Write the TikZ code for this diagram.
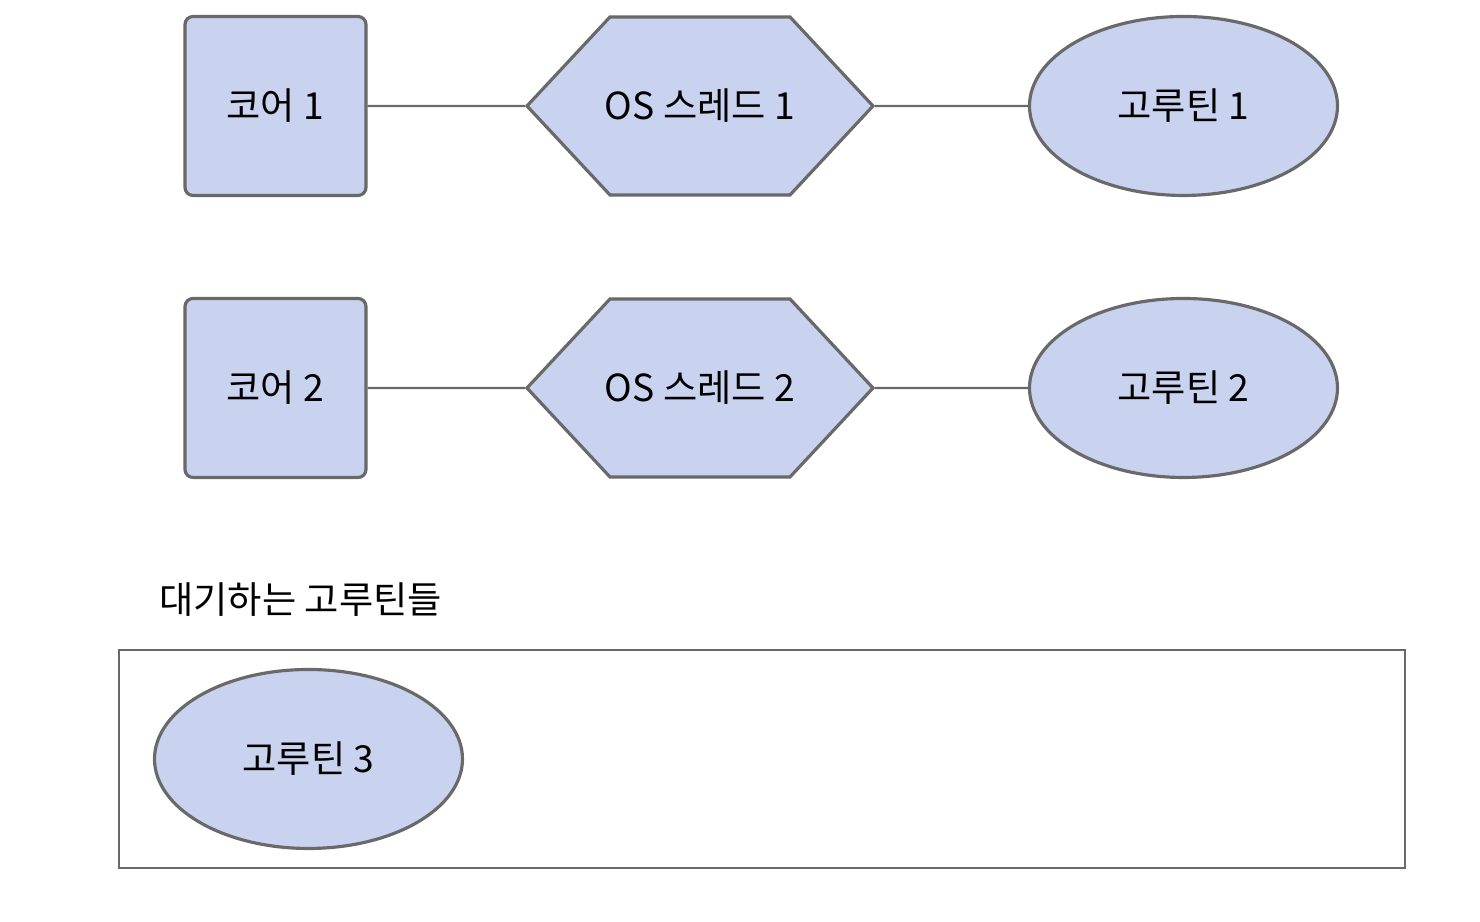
\documentclass[tikz,border=0pt]{standalone}
\usepackage{fontspec}
\setmainfont{Noto Sans CJK KR}
\usepackage{tikz}
\usetikzlibrary{shapes.geometric,shapes.symbols,positioning}
\definecolor{shapefill}{RGB}{201,211,240}
\definecolor{shapeline}{RGB}{105,105,105}

\begin{document}
\begin{tikzpicture}[font=\fontsize{10.6}{13}\selectfont]
\tikzstyle{core}=[rectangle, rounded corners=0.8mm, minimum width=1.81cm, minimum height=1.79cm, line width=0.9pt, draw=shapeline, fill=shapefill]
\tikzstyle{thread}=[signal, signal to=west and east, signal pointer angle=94, minimum width=3.19cm, minimum height=1.78cm, inner ysep=0pt, inner xsep=-0.05cm, line width=0.9pt, draw=shapeline, fill=shapefill]
\tikzstyle{gor}=[ellipse, minimum width=3.08cm, minimum height=1.79cm, line width=0.9pt, draw=shapeline, fill=shapefill]
\tikzstyle{link}=[line width=0.6pt, draw=shapeline]
\useasboundingbox (0,0) rectangle (14.8,9.22);

	\node[core] (c_1) at (2.755,8.16) {코어 1};
	\node[thread] (t_1) at (7.00,8.16) {OS 스레드 1};
	\node[gor] (g_1) at (11.835,8.16) {고루틴 1};

	\node[core] (c_2) at (2.755,5.34) {코어 2};
	\node[thread] (t_2) at (7.00,5.34) {OS 스레드 2};
	\node[gor] (g_2) at (11.835,5.34) {고루틴 2};

	\node[anchor=west] (wait) at (1.47,3.22) {대기하는 고루틴들};
	\node[rectangle, draw=shapeline, line width=0.7pt, minimum width=12.86cm, minimum height=2.18cm] (queue) at (7.62,1.63) {};
	\node[gor] (g_3) at (3.085,1.63) {고루틴 3};

	\path
		(c_1) edge [link] (t_1)
		(t_1) edge [link] (g_1)
		(c_2) edge [link] (t_2)
		(t_2) edge [link] (g_2);

\end{tikzpicture}
\end{document}
